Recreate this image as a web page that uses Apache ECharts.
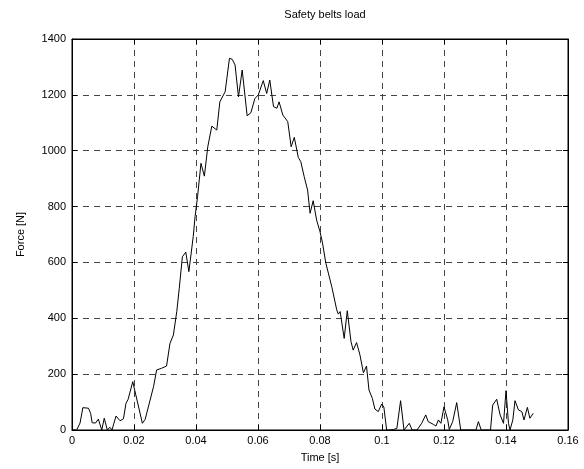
<!DOCTYPE html>
<html><head><meta charset="utf-8">
<script src="https://cdn.jsdelivr.net/npm/echarts@6/dist/echarts.min.js"></script>
<style>html,body{margin:0;padding:0;background:#fff}#c{width:584px;height:469px}</style>
</head><body><div id="c"></div>
<script>
var times = [0.0002,0.0015,0.0026,0.0035,0.0053,0.0060,0.0065,0.0076,0.0085,0.0096,0.0104,0.0114,0.0122,0.0129,0.0142,0.0155,0.0166,0.0174,0.0181,0.0196,
0.0227,0.0236,0.0263,0.0273,0.0289,0.0305,0.0316,0.0327,0.0338,0.0346,0.0356,0.0367,0.0377,0.0391,0.0397,0.0405,0.0416,0.0427,0.0438,0.0451,
0.0467,0.0477,0.0494,0.0508,0.0517,0.0526,0.0537,0.0549,0.0565,0.0577,0.0590,0.0601,0.0617,0.0628,0.0638,0.0650,0.0661,0.0668,0.0680,0.0696,
0.0707,0.0717,0.0730,0.0738,0.0749,0.0760,0.0768,0.0778,0.0789,0.0800,0.0808,0.0819,0.0838,0.0854,0.0859,0.0865,0.0878,0.0888,0.0900,0.0907,
0.0918,0.0929,0.0940,0.0950,0.0958,0.0969,0.0977,0.0988,0.0999,0.1006,0.1015,0.1026,0.1037,0.1048,0.1060,0.1071,0.1088,0.1097,0.1113,0.1128,
0.1141,0.1149,0.1166,0.1174,0.1182,0.1190,0.1200,0.1212,0.1217,0.1228,0.1241,0.1254,0.1303,0.1311,0.1320,0.1325,0.1332,0.1350,0.1357,0.1370,
0.1381,0.1392,0.1400,0.1408,0.1413,0.1422,0.1429,0.1440,0.1451,0.1458,0.1469,0.1477,0.1488];
var forces = [0,0,25,80,78,60,26,25,39,0,42,0,10,0,50,33,40,95,110,173,
24,38,155,215,221,229,310,340,424,507,620,637,567,692,764,835,955,909,1014,1088,
1074,1175,1211,1331,1327,1307,1193,1289,1125,1136,1187,1200,1251,1205,1253,1158,1152,1175,1128,1104,
1014,1048,976,961,907,859,776,821,752,710,670,597,513,430,415,424,328,427,316,286,
313,268,205,229,143,113,75,66,93,82,0,0,2,6,105,0,24,0,0,24,
54,30,20,14,36,24,83,36,2,30,98,0,0,30,0,6,0,0,89,110,
54,24,141,24,0,36,105,72,66,36,81,42,60];
var xTicks = [0,0.02,0.04,0.06,0.08,0.1,0.12,0.14,0.16];
var yTicks = [0,200,400,600,800,1000,1200,1400];

var font = 'Liberation Sans, Arial, sans-serif';
var gridLine = {show:true, lineStyle:{color:'#444', type:[6,5], width:1}};
var chart = echarts.init(document.getElementById('c'));
chart.setOption({
  backgroundColor:'#fff',
  animation:false,
  title:{text:'Safety belts load', left:320, top:4, textAlign:'center',
    textStyle:{fontFamily:font, fontSize:11, fontWeight:'normal', color:'#000'}},
  grid:{left:72, right:16, top:39, bottom:39, show:true, borderColor:'#000', borderWidth:1, backgroundColor:'#fff'},
  xAxis:[{type:'value', min:xTicks[0], max:xTicks[xTicks.length-1], interval:0.02, position:'bottom',
      name:'Time [s]', nameLocation:'middle', nameGap:22,
      nameTextStyle:{fontFamily:font, fontSize:11, color:'#000'},
      axisLine:{show:true, onZero:false, lineStyle:{color:'#000'}},
      axisTick:{show:true, inside:true, length:5, lineStyle:{color:'#000'}},
      axisLabel:{fontFamily:font, fontSize:11, color:'#000', margin:5,
        formatter:function(v){return String(parseFloat(v.toFixed(2)));}},
      splitLine:gridLine},
    {type:'value', min:xTicks[0], max:xTicks[xTicks.length-1], interval:0.02, position:'top',
      axisLine:{show:true, onZero:false, lineStyle:{color:'#000'}},
      axisTick:{show:true, inside:true, length:5, lineStyle:{color:'#000'}},
      axisLabel:{show:false}, splitLine:{show:false}}],
  yAxis:[{type:'value', min:yTicks[0], max:yTicks[yTicks.length-1], interval:200, position:'left',
      name:'Force [N]', nameLocation:'middle', nameGap:46, nameRotate:90,
      nameTextStyle:{fontFamily:font, fontSize:11, color:'#000'},
      axisLine:{show:true, onZero:false, lineStyle:{color:'#000'}},
      axisTick:{show:true, inside:true, length:5, lineStyle:{color:'#000'}},
      axisLabel:{fontFamily:font, fontSize:11, color:'#000', margin:6,
        formatter:function(v){return String(Math.round(v));}},
      splitLine:gridLine},
    {type:'value', min:yTicks[0], max:yTicks[yTicks.length-1], interval:200, position:'right',
      axisLine:{show:true, onZero:false, lineStyle:{color:'#000'}},
      axisTick:{show:true, inside:true, length:5, lineStyle:{color:'#000'}},
      axisLabel:{show:false}, splitLine:{show:false}}],
  series:[{type:'line', xAxisIndex:0, yAxisIndex:0, showSymbol:false, symbol:'none',
    lineStyle:{color:'#000', width:1}, clip:true,
    data:times.map(function(t,i){return [t, forces[i]];})}]
});
</script></body></html>
